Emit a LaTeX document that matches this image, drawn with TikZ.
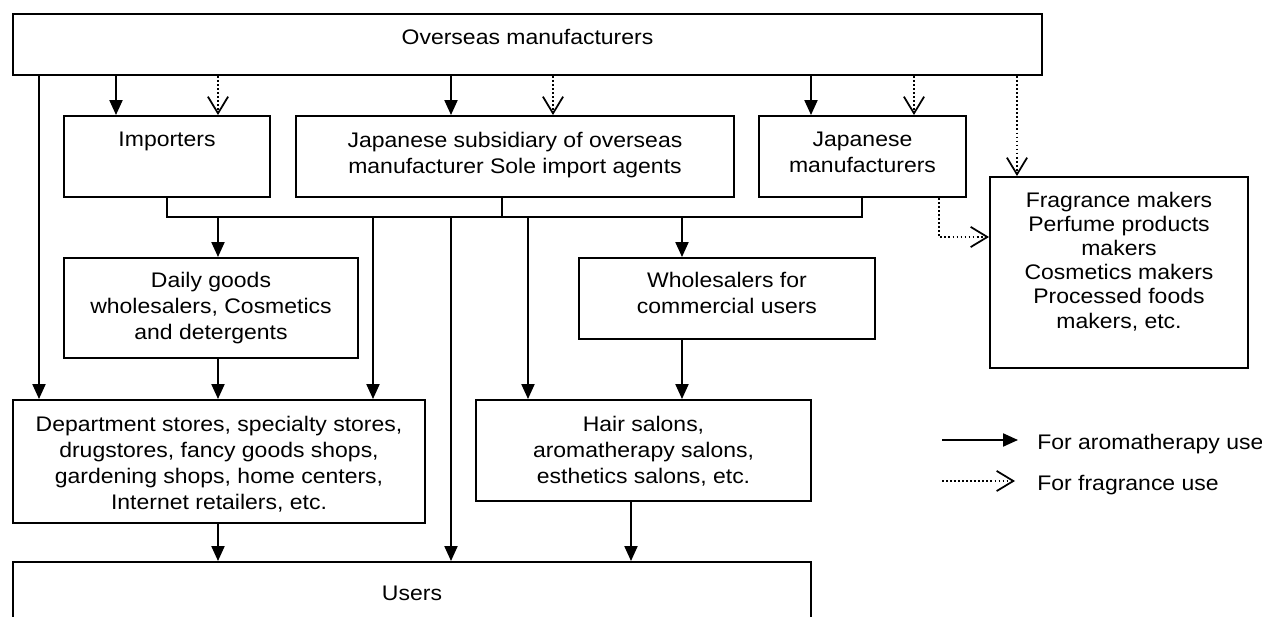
\documentclass[tikz,border=0pt]{standalone}
\usepackage{fontspec}
\setmainfont{Liberation Sans}[FakeStretch=1.09]
\usepackage{tikz}
\usetikzlibrary{arrows.meta,fit}

\tikzset{
  box/.style={draw, line width=1.1pt, inner sep=0pt},
  txt/.style={align=center, inner sep=0pt, font=\fontsize{12}{14.7}\selectfont},
  wire/.style={line width=1.1pt},
  sol/.style={line width=1.1pt, -{Triangle[length=8.5pt,width=7.4pt]}},
  dot/.style={line width=1pt, dash pattern=on 1pt off 1.3pt,
    -{Straight Barb[length=9.5pt,width=11.5pt,line width=1pt]}},
}

\begin{document}
\begin{tikzpicture}[x=0.02cm, y=-0.02cm]
  \useasboundingbox (0,0) rectangle (1262,617);

  % Les boites
  \node[box, fit={(13,14) (1042,75)},
    label={[txt,name=topT,anchor=north,yshift=-0.32cm]north:Overseas manufacturers}] (top) {};
  \node[box, fit={(64,116) (270,197)},
    label={[txt,name=impT,anchor=north,yshift=-0.34cm]north:Importers}] (imp) {};
  \node[box, fit={(296,116) (734,197)},
    label={[txt,name=jsubT,anchor=north,yshift=-0.34cm]north:{Japanese subsidiary of overseas\\manufacturer Sole import agents}}] (jsub) {};
  \node[box, fit={(759,116) (966,197)},
    label={[txt,name=jmanT,anchor=north,yshift=-0.34cm]north:{Japanese\\manufacturers}}] (jman) {};
  \node[box, fit={(990,177) (1248,368)},
    label={[txt,name=fragT,anchor=north,yshift=-0.32cm,font=\fontsize{12}{13.7}\selectfont]north:{Fragrance makers\\Perfume products\\makers\\Cosmetics makers\\Processed foods\\makers, etc.}}] (frag) {};
  \node[box, fit={(64,258) (358,358)},
    label={[txt,name=dailyT,anchor=north,yshift=-0.30cm]north:{Daily goods\\wholesalers, Cosmetics\\and detergents}}] (daily) {};
  \node[box, fit={(579,258) (875,339)},
    label={[txt,name=wholeT,anchor=north,yshift=-0.30cm]north:{Wholesalers for\\commercial users}}] (whole) {};
  \node[box, fit={(13,400) (425,523)},
    label={[txt,name=deptT,anchor=north,yshift=-0.34cm]north:{Department stores, specialty stores,\\drugstores, fancy goods shops,\\gardening shops, home centers,\\Internet retailers, etc.}}] (dept) {};
  \node[box, fit={(476,400) (811,501)},
    label={[txt,name=hairT,anchor=north,yshift=-0.34cm]north:{Hair salons,\\aromatherapy salons,\\esthetics salons, etc.}}] (hair) {};
  \node[box, fit={(13,562) (811,640)},
    label={[txt,name=usersT,anchor=north,yshift=-0.5cm]north:Users}] (users) {};

  % Colonnes des fleches
  \coordinate (k1) at (39,0);
  \coordinate (k2) at (116,0);
  \coordinate (k3) at (218,0);
  \coordinate (k4) at (373,0);
  \coordinate (k5) at (451,0);
  \coordinate (k6) at (528,0);
  \coordinate (k7) at (553,0);
  \coordinate (k8) at (682,0);
  \coordinate (k9) at (811,0);
  \coordinate (k10) at (914,0);
  \coordinate (k11) at (1017,0);
  \coordinate (k12) at (502,0);
  \coordinate (k13) at (631,0);
  \coordinate (busL) at (167,217);
  \coordinate (busR) at (862,217);
  \coordinate (bend) at (939,237);

  % Depuis les fabricants etrangers
  \draw[sol] (top.south -| k1) -- (dept.north -| k1);
  \draw[sol] (top.south -| k2) -- (imp.north -| k2);
  \draw[dot] (top.south -| k3) -- (imp.north -| k3);
  \draw[sol] (top.south -| k5) -- (jsub.north -| k5);
  \draw[dot] (top.south -| k7) -- (jsub.north -| k7);
  \draw[sol] (top.south -| k9) -- (jman.north -| k9);
  \draw[dot] (top.south -| k10) -- (jman.north -| k10);
  \draw[dot] (top.south -| k11) -- (frag.north -| k11);
  \draw[dot] (jman.south -| bend) -- (bend) -- (frag.west |- bend);

  % Le bus
  \draw[wire] (imp.south -| busL) -- (busL) -- (busR) -- (jman.south -| busR);
  \draw[wire] (jsub.south -| k12) -- (busL -| k12);

  % Vers le bas
  \draw[sol] (busL -| k3) -- (daily.north -| k3);
  \draw[sol] (busL -| k4) -- (dept.north -| k4);
  \draw[sol] (busL -| k5) -- (users.north -| k5);
  \draw[sol] (busL -| k6) -- (hair.north -| k6);
  \draw[sol] (busL -| k8) -- (whole.north -| k8);
  \draw[sol] (daily.south -| k3) -- (dept.north -| k3);
  \draw[sol] (whole.south -| k8) -- (hair.north -| k8);
  \draw[sol] (dept.south -| k3) -- (users.north -| k3);
  \draw[sol] (hair.south -| k13) -- (users.north -| k13);

  % Legende
  \coordinate (la) at (942,440);
  \coordinate (lb) at (942,481);
  \node[txt, anchor=base west] (aroma) at (1037,450) {For aromatherapy use};
  \node[txt, anchor=base west] (fragu) at (1037,491) {For fragrance use};
  \draw[sol, shorten >=0.38cm] (la) -- (la -| aroma.west);
  \draw[dot, shorten >=0.44cm] (lb) -- (lb -| fragu.west);
\end{tikzpicture}
\end{document}
